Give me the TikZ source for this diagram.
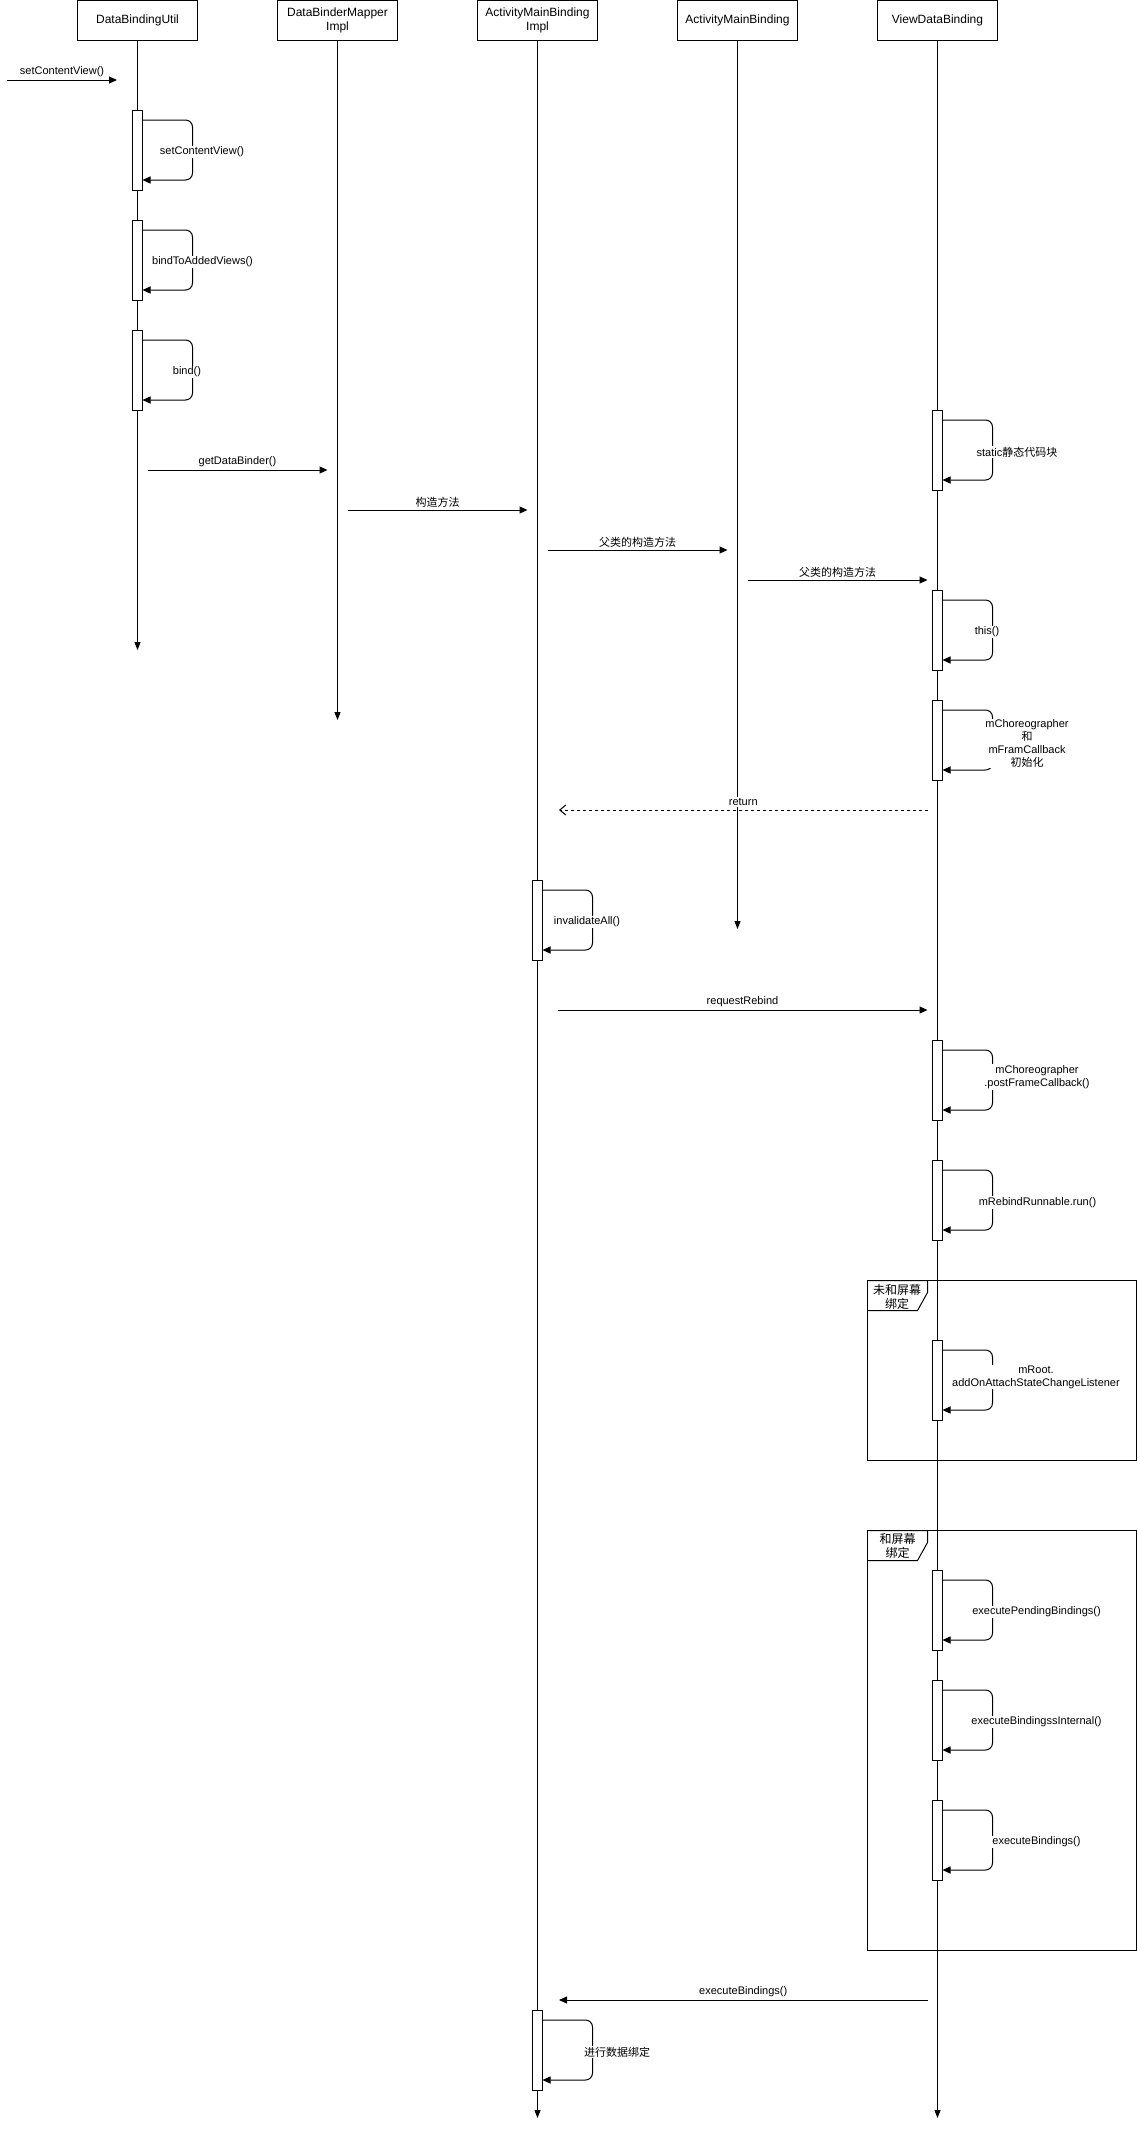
\documentclass[tikz,border=0pt]{standalone}
\usepackage{fontspec}
\setmainfont{Liberation Sans}
\newfontfamily\cjk{Noto Sans CJK SC}
\usetikzlibrary{arrows.meta,calc}
\begin{document}
\begin{tikzpicture}[x=1pt,y=-1pt,line width=1pt,
 hdr/.style={draw,fill=white,minimum width=120pt,minimum height=40pt,inner sep=0pt,align=center,font=\fontsize{12}{13.5}\selectfont},
 act/.style={draw,fill=white,minimum width=10pt,minimum height=80pt,inner sep=0pt,outer sep=0pt},
 life/.style={-{Triangle[length=8pt,width=6pt]}},
 msg/.style={-{Triangle[length=8pt,width=7pt]}},
 ret/.style={dash pattern=on 3pt off 3pt,-{Straight Barb[length=6pt,width=10pt]}},
 lbl/.style={fill=white,inner sep=1pt,font=\fontsize{11}{13}\selectfont,align=center},
 selfloop/.style={rounded corners=7pt,-{Triangle[length=8pt,width=7pt]}},
 frm/.style={draw,minimum width=269pt,anchor=north west,inner sep=0pt,outer sep=0pt},
 frmlbl/.style={inner sep=0pt,align=center,font=\fontsize{12}{14.5}\selectfont}]
\useasboundingbox (0,0) rectangle (1138,2129);

% headers
\node[hdr] (h1) at (137.5,20.5) {DataBindingUtil};
\node[hdr] (h2) at (337.5,20.5) {DataBinderMapper\\Impl};
\node[hdr] (h3) at (537.5,20.5) {ActivityMainBinding\\Impl};
\node[hdr] (h4) at (737.5,20.5) {ActivityMainBinding};
\node[hdr] (h5) at (937.5,20.5) {ViewDataBinding};

% frames
\node[frm,minimum height=180pt] (f1) at (867.5,1280.5) {};
\draw (f1.north west) -- ++(60,0) -- ++(0,12) -- ++(-10,18) -- ++(-50,0);
\node[frmlbl] (f1l) at (897,1297) {{\cjk 未和屏幕}\\{\cjk 绑定}};
\node[frm,minimum height=420pt] (f2) at (867.5,1530.5) {};
\draw (f2.north west) -- ++(60,0) -- ++(0,12) -- ++(-10,18) -- ++(-50,0);
\node[frmlbl] (f2l) at (897.5,1546) {{\cjk 和屏幕}\\{\cjk 绑定}};

% lifelines
\coordinate (e1) at (137.5,650);
\coordinate (e2) at (337.5,720);
\coordinate (e3) at (537.5,2118);
\coordinate (e4) at (737.5,929);
\coordinate (e5) at (937.5,2118);
\draw[life] (h1.south) -- (e1);
\draw[life] (h2.south) -- (e2);
\draw[life] (h3.south) -- (e3);
\draw[life] (h4.south) -- (e4);
\draw[life] (h5.south) -- (e5);

% activations
\node[act] (a1) at (137.5,150) {};
\node[act] (a2) at (137.5,260) {};
\node[act] (a3) at (137.5,370) {};
\node[act] (v1) at (937.5,450) {};
\node[act] (v2) at (937.5,630) {};
\node[act] (v3) at (937.5,740) {};
\node[act] (i1) at (537.5,920) {};
\node[act] (v4) at (937.5,1080) {};
\node[act] (v5) at (937.5,1200) {};
\node[act] (v6) at (937.5,1380) {};
\node[act] (v7) at (937.5,1610) {};
\node[act] (v8) at (937.5,1720) {};
\node[act] (v9) at (937.5,1840) {};
\node[act] (i2) at (537.5,2050) {};

% self loops
\foreach \n in {a1,a2,a3,v1,v2,v3,i1,v4,v5,v6,v7,v8,v9,i2}{
  \draw[selfloop] ($(\n.north east)+(0,10)$) -- ++(50,0) -- ++(0,60) -- ($(\n.south east)+(0,-10)$);
}

% self loop labels
\node[lbl] (la1) at (202,152) {setContentView()};
\node[lbl] (la2) at (202.5,262) {bindToAddedViews()};
\node[lbl] (la3) at (187,372) {bind()};
\node[lbl] (lv1) at (1017,452) {static{\cjk 静态代码块}};
\node[lbl] (lv2) at (987,632) {this()};
\node[lbl] (lv3) at (1027,743.5) {mChoreographer\\{\cjk 和}\\mFramCallback\\{\cjk 初始化}};
\node[lbl] (li1) at (587,922) {invalidateAll()};
\node[lbl] (lv4) at (1037,1077) {mChoreographer\\.postFrameCallback()};
\node[lbl] (lv5) at (1037.5,1202.5) {mRebindRunnable.run()};
\node[lbl] (lv6) at (1036,1377) {mRoot.\\addOnAttachStateChangeListener};
\node[lbl] (lv7) at (1036.5,1612) {executePendingBindings()};
\node[lbl] (lv8) at (1036.5,1722) {executeBindingssInternal()};
\node[lbl] (lv9) at (1036.5,1842) {executeBindings()};
\node[lbl] (li2) at (617,2052) {{\cjk 进行数据绑定}};

% messages
\coordinate (s0) at (7,80);      \coordinate (t0) at (117,80);
\coordinate (s1) at (147.5,470); \coordinate (t1) at (327.5,470);
\coordinate (s2) at (347.5,510); \coordinate (t2) at (527.5,510);
\coordinate (s3) at (547.5,550); \coordinate (t3) at (727.5,550);
\coordinate (s4) at (747.5,580); \coordinate (t4) at (927.5,580);
\coordinate (s5) at (927.5,810); \coordinate (t5) at (559,810);
\coordinate (s6) at (557.5,1010);\coordinate (t6) at (927.5,1010);
\coordinate (s7) at (927.5,2000);\coordinate (t7) at (559,2000);

\draw[msg] (s0) -- (t0) node[midway,lbl,yshift=8pt] {setContentView()};
\draw[msg] (s1) -- (t1) node[midway,lbl,yshift=8pt] {getDataBinder()};
\draw[msg] (s2) -- (t2) node[midway,lbl,yshift=8pt] {{\cjk 构造方法}};
\draw[msg] (s3) -- (t3) node[midway,lbl,yshift=8pt] {{\cjk 父类的构造方法}};
\draw[msg] (s4) -- (t4) node[midway,lbl,yshift=8pt] {{\cjk 父类的构造方法}};
\draw[ret] (s5) -- (t5) node[midway,lbl,yshift=8pt] {return};
\draw[msg] (s6) -- (t6) node[midway,lbl,yshift=8pt] {requestRebind};
\draw[msg] (s7) -- (t7) node[midway,lbl,yshift=8pt] {executeBindings()};
\end{tikzpicture}
\end{document}
